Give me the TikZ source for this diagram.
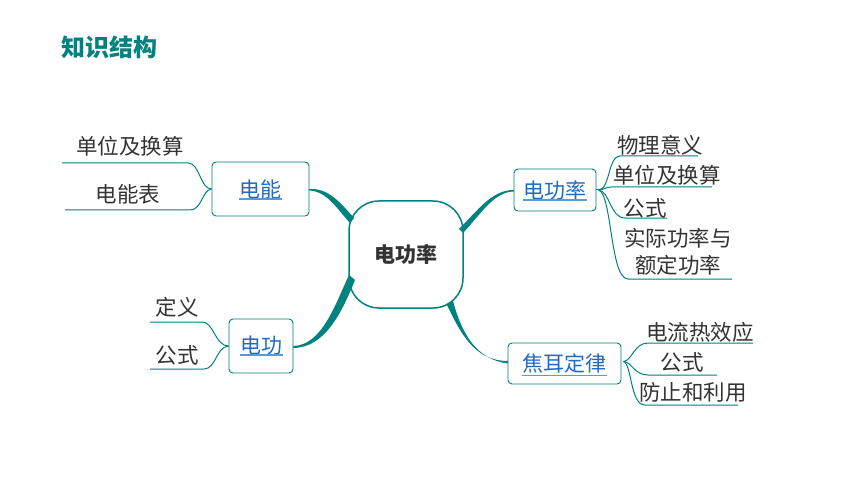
\documentclass[tikz,border=0pt]{standalone}
\usepackage{fontspec}
\setmainfont{Noto Sans CJK SC}
\usetikzlibrary{calc}
\definecolor{teal1}{HTML}{00827F}
\definecolor{boxblue}{HTML}{1F6BC4}
\definecolor{ulblue}{HTML}{5B9BD5}
\definecolor{txt}{HTML}{333333}
\tikzset{
 box/.style={draw=teal1, line width=0.9pt, rounded corners=4pt, text=boxblue, font=\fontsize{21}{25}\selectfont, inner sep=0pt},
 leaf/.style={text=txt, font=\fontsize{21.5}{25}\selectfont, inner sep=0pt, align=center},
 thinline/.style={draw=teal1, line width=1pt},
 tap/.style={fill=teal1},
 uline/.style={draw=ulblue, line width=1.3pt}
}
\begin{document}
\begin{tikzpicture}[x=1pt,y=-1pt]
\useasboundingbox (0,0) rectangle (860,484);
\fill[white] (0,0) rectangle (860,484);
% title
\node[font=\fontsize{24}{28}\selectfont\bfseries, text=teal1, anchor=west, inner sep=0pt] (title) at (61,47) {知识结构};
% central
\node[draw=teal1, line width=1.5pt, rounded corners=30pt, minimum width=114pt, minimum height=107pt, text=txt, font=\fontsize{21}{25}\selectfont\bfseries] (c) at (406,254.5) {电功率};
% boxes
\node[box, minimum width=97pt, minimum height=54pt] (e1) at (260.5,189) {电能};
\node[box, minimum width=64pt, minimum height=54pt] (g) at (261,346) {电功};
\node[box, minimum width=82pt, minimum height=42pt] (p) at (555,190) {电功率};
\node[box, minimum width=113pt, minimum height=41pt] (j) at (564.5,363.5) {焦耳定律};
% underlines of box text
\draw[uline] ($(e1.center)+(-21.5,10)$) -- ++(43,0);
\draw[uline] ($(g.center)+(-21.5,9)$) -- ++(43,0);
\draw[uline] ($(p.center)+(-32,10)$) -- ++(64,0);
\draw[uline] ($(j.center)+(-42.5,12)$) -- ++(85,0);
% tapered main connectors
\fill[tap] (e1.east) .. controls (328,188) and (340,202) .. (354,218) -- (350,223) .. controls (337,209) and (327,191) .. (309,190.5) -- cycle;
\fill[tap] (p.west) .. controls (492,190) and (478,210) .. (459,229) -- (463,233) .. controls (480,215) and (494,191.5) .. (514,191.5) -- cycle;
\fill[tap] (g.east) .. controls (322,345) and (335,305) .. (349,275) -- (355,280) .. controls (342,312) and (325,348) .. (293,348) -- cycle;
\fill[tap] (j.west) .. controls (476,359) and (462,334) .. (453,301) -- (447,305) .. controls (460,332) and (474,361) .. (508,361) -- cycle;
% left leaves: 电能
\node[leaf] (l1) at (130,146) {单位及换算};
\node[leaf] (l2) at (128,194) {电能表};
\coordinate (l1a) at (188,163); \coordinate (l1b) at (62,163);
\coordinate (l2a) at (190,210); \coordinate (l2b) at (65,210);
\draw[thinline] (e1.west) .. controls (200,189) and (200,163) .. (l1a) -- (l1b);
\draw[thinline] (e1.west) .. controls (202,190) and (202,210) .. (l2a) -- (l2b);
% 电功
\node[leaf] (g1) at (177,307) {定义};
\node[leaf] (g2) at (177,355) {公式};
\coordinate (g1a) at (202,322); \coordinate (g1b) at (150,322);
\coordinate (g2a) at (204,369); \coordinate (g2b) at (150,369);
\draw[thinline] (g.west) .. controls (215,346) and (214,322) .. (g1a) -- (g1b);
\draw[thinline] (g.west) .. controls (216,347) and (216,369) .. (g2a) -- (g2b);
% 电功率
\node[leaf] (p1) at (660,145) {物理意义};
\node[leaf] (p2) at (667,175) {单位及换算};
\node[leaf] (p3) at (645,208) {公式};
\node[leaf, font=\fontsize{21.5}{27}\selectfont] (p4) at (678,251.5) {实际功率与\\额定功率};
\coordinate (po) at ($(p.east)+(2,0)$);
\draw[thinline] (p.east) -- (po);
\draw[thinline] (po) .. controls (610,190) and (608,156) .. (620,156) -- (698,156);
\draw[thinline] (po) .. controls (604,190) and (605,187) .. (612,187) -- (712,187);
\draw[thinline] (po) .. controls (610,191) and (610,218) .. (625,218) -- (667,218);
\draw[thinline] (po) .. controls (612,193) and (610,279) .. (628,279) -- (732,279);
% 焦耳定律
\node[leaf] (j1) at (700,332) {电流热效应};
\node[leaf] (j2) at (682,362) {公式};
\node[leaf] (j3) at (693,392) {防止和利用};
\coordinate (jo) at ($(j.east)+(2,-2)$);
\draw[thinline] (jo) .. controls (632,361) and (634,343) .. (648,343) -- (753,343);
\draw[thinline] (jo) .. controls (632,362) and (634,375) .. (648,375) -- (717,375);
\draw[thinline] (jo) .. controls (632,364) and (630,405) .. (645,405) -- (738,405);
\end{tikzpicture}
\end{document}
